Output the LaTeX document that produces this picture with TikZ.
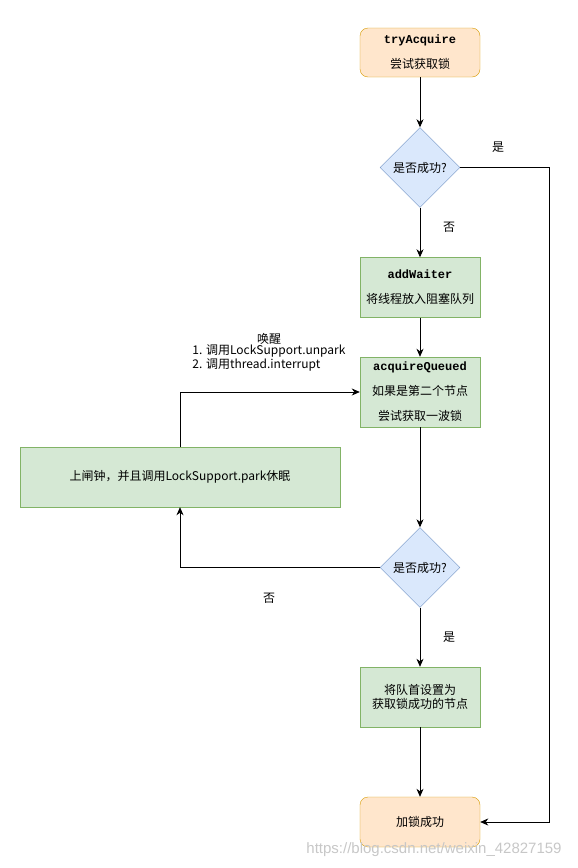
\documentclass[tikz,border=0pt]{standalone}
\usepackage{fontspec}
\setmainfont{Noto Sans CJK SC}
\newfontfamily\codefont{Liberation Mono}
\newfontfamily\markfont{Liberation Sans}
\usetikzlibrary{arrows.meta,shapes.geometric}
\definecolor{orangefill}{HTML}{FFE6CC}
\definecolor{orangeline}{HTML}{D79B00}
\definecolor{greenfill}{HTML}{D5E8D4}
\definecolor{greenline}{HTML}{82B366}
\definecolor{bluefill}{HTML}{DAE8FC}
\definecolor{blueline}{HTML}{6C8EBF}
\tikzset{
	startend/.style={draw=orangeline, fill=orangefill, rounded corners=8pt, minimum width=120pt, minimum height=50pt, align=center, inner sep=0pt},
	stepbox/.style={draw=greenline, fill=greenfill, minimum width=120pt, minimum height=60pt, align=center, inner sep=0pt},
	check/.style={draw=blueline, fill=bluefill, shape=diamond, minimum width=80pt, minimum height=80pt, inner sep=0pt},
	arr/.style={-{Stealth[length=8pt, width=7pt, inset=2.5pt]}, line width=0.8pt},
	tag/.style={font=\fontsize{12}{14}\selectfont, inner sep=0pt}
}
\newcommand{\code}[1]{{\codefont\bfseries #1}}
\begin{document}
\begin{tikzpicture}[x=1pt, y=-1pt, font=\fontsize{12}{14}\selectfont]
			%%%%% START %%%%%
			\useasboundingbox (0, 0) rectangle (578, 868);
			
			\node[startend, minimum height=49pt] (try) at (420, 52.5) {\code{tryAcquire}\\[11pt]尝试获取锁};
			\node[check, label=center:{是否成功?}] (q1) at (420, 167.5) {};
			\node[stepbox] (add) at (420, 287.5) {\code{addWaiter}\\[11pt]将线程放入阻塞队列};
			\node[stepbox, minimum height=70pt] (aq) at (420, 392) {\code{acquireQueued}\\[11pt]如果是第二个节点\\[11pt]尝试获取一波锁};
			\node[stepbox, minimum width=320pt] (park) at (180, 477) {上闸钟，并且调用LockSupport.park休眠};
			\node[check, label=center:{是否成功?}] (q2) at (420, 567.5) {};
			\node[stepbox] (head) at (420, 697) {将队首设置为\\获取锁成功的节点};
			\node[startend] (done) at (420, 822) {加锁成功};
			
			\coordinate (yescol) at (549, 0);
			
			\draw[arr] (try.south) -- (q1.north);
			\draw[arr] (q1.south) -- (add.north);
			\draw[arr] (q1.east) -- (q1.east -| yescol) |- (done.east);
			\draw[arr] (add.south) -- (aq.north);
			\draw[arr] (aq.south) -- (q2.north);
			\draw[arr] (q2.west) -| (park.south);
			\draw[arr] (park.north) |- (aq.west);
			\draw[arr] (q2.south) -- (head.north);
			\draw[arr] (head.south) -- (done.north);
			
			\node[tag] (yes1) at (498, 147) {是};
			\node[tag] (no1) at (449, 227) {否};
			\node[tag] (no2) at (269, 598) {否};
			\node[tag] (yes2) at (449, 637) {是};
			\node[tag, align=center] (wake) at (269, 353) {唤醒\\ \begin{tabular}{@{}l@{}}1. 调用LockSupport.unpark\\2. 调用thread.interrupt\end{tabular}};
			
			\node[font=\markfont\fontsize{15}{15}\selectfont, text=black!22, inner sep=0pt] (mark) at (434, 850) {https://blog.csdn.net/weixin\_42827159};
			
			%%%%% END %%%%%
		\end{tikzpicture}
\end{document}
